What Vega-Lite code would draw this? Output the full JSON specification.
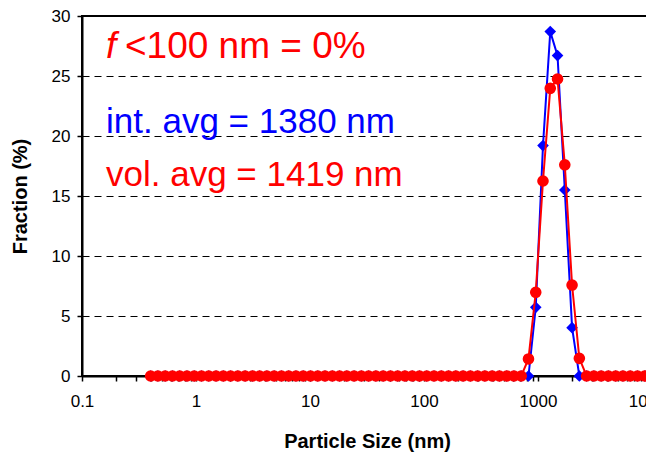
{
  "$schema": "https://vega.github.io/schema/vega-lite/v6.json",
  "autosize": "none",
  "padding": {"left": 82, "top": 16, "right": 0, "bottom": 80},
  "width": 570,
  "height": 360,
  "background": "white",
  "config": {
    "font": "Liberation Sans",
    "view": {"stroke": "black", "strokeWidth": 2},
    "axis": {
      "labelFont": "Liberation Sans",
      "titleFont": "Liberation Sans",
      "labelColor": "black",
      "titleColor": "black",
      "domainColor": "black",
      "tickColor": "black",
      "labelFontSize": 17,
      "titleFontSize": 20,
      "titleFontWeight": "bold",
      "domainWidth": 2,
      "tickWidth": 1.5,
      "tickSize": 5,
      "labelFlush": false,
      "labelOverlap": false
    }
  },
  "datasets": {
    "psd": [
      {"size": 0.4, "int": 0, "vol": 0},
      {"size": 0.4632, "int": 0, "vol": 0},
      {"size": 0.5365, "int": 0, "vol": 0},
      {"size": 0.6213, "int": 0, "vol": 0},
      {"size": 0.7195, "int": 0, "vol": 0},
      {"size": 0.8332, "int": 0, "vol": 0},
      {"size": 0.9649, "int": 0, "vol": 0},
      {"size": 1.117, "int": 0, "vol": 0},
      {"size": 1.294, "int": 0, "vol": 0},
      {"size": 1.499, "int": 0, "vol": 0},
      {"size": 1.736, "int": 0, "vol": 0},
      {"size": 2.01, "int": 0, "vol": 0},
      {"size": 2.328, "int": 0, "vol": 0},
      {"size": 2.696, "int": 0, "vol": 0},
      {"size": 3.122, "int": 0, "vol": 0},
      {"size": 3.615, "int": 0, "vol": 0},
      {"size": 4.187, "int": 0, "vol": 0},
      {"size": 4.849, "int": 0, "vol": 0},
      {"size": 5.615, "int": 0, "vol": 0},
      {"size": 6.503, "int": 0, "vol": 0},
      {"size": 7.531, "int": 0, "vol": 0},
      {"size": 8.721, "int": 0, "vol": 0},
      {"size": 10.1, "int": 0, "vol": 0},
      {"size": 11.7, "int": 0, "vol": 0},
      {"size": 13.54, "int": 0, "vol": 0},
      {"size": 15.69, "int": 0, "vol": 0},
      {"size": 18.17, "int": 0, "vol": 0},
      {"size": 21.04, "int": 0, "vol": 0},
      {"size": 24.36, "int": 0, "vol": 0},
      {"size": 28.21, "int": 0, "vol": 0},
      {"size": 32.67, "int": 0, "vol": 0},
      {"size": 37.84, "int": 0, "vol": 0},
      {"size": 43.82, "int": 0, "vol": 0},
      {"size": 50.75, "int": 0, "vol": 0},
      {"size": 58.77, "int": 0, "vol": 0},
      {"size": 68.06, "int": 0, "vol": 0},
      {"size": 78.82, "int": 0, "vol": 0},
      {"size": 91.28, "int": 0, "vol": 0},
      {"size": 105.7, "int": 0, "vol": 0},
      {"size": 122.4, "int": 0, "vol": 0},
      {"size": 141.8, "int": 0, "vol": 0},
      {"size": 164.2, "int": 0, "vol": 0},
      {"size": 190.1, "int": 0, "vol": 0},
      {"size": 220.2, "int": 0, "vol": 0},
      {"size": 255.0, "int": 0, "vol": 0},
      {"size": 295.3, "int": 0, "vol": 0},
      {"size": 342.0, "int": 0, "vol": 0},
      {"size": 396.1, "int": 0, "vol": 0},
      {"size": 458.7, "int": 0, "vol": 0},
      {"size": 531.2, "int": 0, "vol": 0},
      {"size": 615.1, "int": 0, "vol": 0},
      {"size": 712.4, "int": 0, "vol": 0},
      {"size": 825.0, "int": 0, "vol": 1.42},
      {"size": 955.4, "int": 5.72, "vol": 6.97},
      {"size": 1106, "int": 19.2, "vol": 16.25},
      {"size": 1281, "int": 28.7, "vol": 23.97},
      {"size": 1484, "int": 26.7, "vol": 24.75},
      {"size": 1718, "int": 15.5, "vol": 17.6},
      {"size": 1990, "int": 4.03, "vol": 7.58},
      {"size": 2305, "int": 0, "vol": 1.47},
      {"size": 2669, "int": 0, "vol": 0},
      {"size": 3091, "int": 0, "vol": 0},
      {"size": 3580, "int": 0, "vol": 0},
      {"size": 4145, "int": 0, "vol": 0},
      {"size": 4801, "int": 0, "vol": 0},
      {"size": 5560, "int": 0, "vol": 0},
      {"size": 6439, "int": 0, "vol": 0},
      {"size": 7456, "int": 0, "vol": 0},
      {"size": 8635, "int": 0, "vol": 0},
      {"size": 10000, "int": 0, "vol": 0}
    ]
  },
  "layer": [
    {
      "data": {"name": "psd"},
      "mark": {"type": "line", "color": "#0000FF", "strokeWidth": 2,
               "point": {"shape": "diamond", "filled": true, "size": 135, "color": "#0000FF", "opacity": 1}},
      "encoding": {
        "x": {"field": "size", "type": "quantitative",
              "scale": {"type": "log", "domain": [0.1, 10000], "nice": false},
              "title": "Particle Size (nm)",
              "axis": {
                "values": [0.1, 0.2, 0.3, 0.4, 0.5, 0.6, 0.7, 0.8, 0.9, 1, 2, 3, 4, 5, 6, 7, 8, 9, 10, 20, 30, 40, 50, 60, 70, 80, 90, 100, 200, 300, 400, 500, 600, 700, 800, 900, 1000, 2000, 3000, 4000, 5000, 6000, 7000, 8000, 9000, 10000],
                "format": "~g",
                "labelExpr": "(datum.value == 0.1 || datum.value == 1 || datum.value == 10 || datum.value == 100 || datum.value == 1000 || datum.value == 10000) ? datum.label : ''",
                "grid": false,
                "labelPadding": 12,
                "titlePadding": 22
              }},
        "y": {"field": "int", "type": "quantitative",
              "scale": {"domain": [0, 30], "nice": false, "zero": true},
              "title": "Fraction (%)",
              "axis": {
                "values": [0, 5, 10, 15, 20, 25, 30],
                "grid": true,
                "gridColor": "black",
                "gridDash": [7, 5],
                "gridWidth": 1,
                "gridOpacity": 1,
                "labelPadding": 7,
                "titlePadding": 21
              }}
      }
    },
    {
      "data": {"name": "psd"},
      "mark": {"type": "line", "color": "#FF0000", "strokeWidth": 2,
               "point": {"shape": "circle", "filled": true, "size": 135, "color": "#FF0000", "opacity": 1}},
      "encoding": {
        "x": {"field": "size", "type": "quantitative", "title": "Particle Size (nm)"},
        "y": {"field": "vol", "type": "quantitative", "title": "Fraction (%)"}
      }
    },
    {
      "data": {"values": [{"label": "f"}]},
      "mark": {"type": "text", "fontStyle": "italic", "fontSize": 37, "color": "#FF0000", "align": "left", "baseline": "alphabetic"},
      "encoding": {
        "text": {"field": "label"},
        "x": {"datum": 0.1624, "type": "quantitative", "title": "Particle Size (nm)"},
        "y": {"datum": 26.53, "type": "quantitative", "title": "Fraction (%)"}
      }
    },
    {
      "data": {"values": [{"label": "<100 nm = 0%"}]},
      "mark": {"type": "text", "fontSize": 37, "color": "#FF0000", "align": "left", "baseline": "alphabetic"},
      "encoding": {
        "text": {"field": "label"},
        "x": {"datum": 0.2383, "type": "quantitative", "title": "Particle Size (nm)"},
        "y": {"datum": 26.53, "type": "quantitative", "title": "Fraction (%)"}
      }
    },
    {
      "data": {"values": [{"label": "int. avg = 1380 nm"}]},
      "mark": {"type": "text", "fontSize": 35, "color": "#0000FF", "align": "left", "baseline": "alphabetic"},
      "encoding": {
        "text": {"field": "label"},
        "x": {"datum": 0.1624, "type": "quantitative", "title": "Particle Size (nm)"},
        "y": {"datum": 20.22, "type": "quantitative", "title": "Fraction (%)"}
      }
    },
    {
      "data": {"values": [{"label": "vol. avg = 1419 nm"}]},
      "mark": {"type": "text", "fontSize": 35, "color": "#FF0000", "align": "left", "baseline": "alphabetic"},
      "encoding": {
        "text": {"field": "label"},
        "x": {"datum": 0.1624, "type": "quantitative", "title": "Particle Size (nm)"},
        "y": {"datum": 15.86, "type": "quantitative", "title": "Fraction (%)"}
      }
    }
  ]
}
